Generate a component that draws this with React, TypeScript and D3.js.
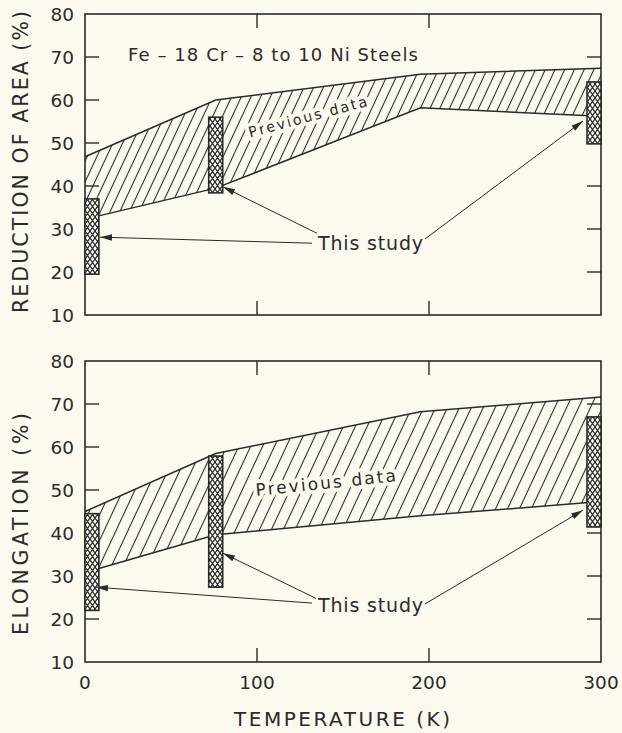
import React from 'react';
import * as d3 from 'd3';

const W = 622;
const H = 733;

// Scatter band of earlier results (temperatures in K, values in %)
const bandTemps = [0, 76, 195, 300];
const areaUpper = [46.8, 60, 66, 67.4];
const areaLower = [32.3, 39.5, 58.2, 56.2];
const elongUpper = [45, 58.5, 68.2, 71.6];
const elongLower = [30.8, 39.6, 44, 47.3];

// Ranges measured in this study
const studyTemps = [4, 76, 296];
const areaStudyLow = [19.5, 38.4, 49.8];
const areaStudyHigh = [37, 56, 64.2];
const elongStudyLow = [22, 27.4, 41.4];
const elongStudyHigh = [44.5, 57.9, 67];

// Axis ticks
const yTicks = [10, 20, 30, 40, 50, 60, 70, 80];
const xTicks = [0, 100, 200, 300];

const INK = '#2b2b2b';
const PAPER = '#fcf9ef';
const FONT = '"DejaVu Sans", Verdana, sans-serif';

const x = d3.scaleLinear().domain([0, 300]).range([85, 601]);

type Arrow = [number, number, number, number]; // tailT, tailV, tipT, tipV

interface PanelProps {
  top: number;
  bottom: number;
  upper: number[];
  lower: number[];
  low: number[];
  high: number[];
  hatch: string;
  title: string;
  titleCenter: number;
  titleLength: number;
  prevAt: [number, number];
  prevAngle: number;
  prevSize: number;
  prevLength: number;
  studyAt: [number, number];
  arrows: Arrow[];
  showX: boolean;
  heading?: boolean;
}

function Panel(p: PanelProps) {
  const y = d3.scaleLinear().domain([10, 80]).range([p.bottom, p.top]);
  const pts: [number, number][] = bandTemps.map((t, i) => [t, p.upper[i]]);
  const lowPts: [number, number][] = bandTemps.map((t, i) => [t, p.lower[i]]);
  const poly = [...pts, ...lowPts.slice().reverse()];
  const bandPath = d3
    .line<[number, number]>()
    .x((d) => x(d[0]))
    .y((d) => y(d[1]))(poly) + 'Z';
  const edge = d3
    .line<[number, number]>()
    .x((d) => x(d[0]))
    .y((d) => y(d[1]));
  const tick = 14;
  const barW = 14;
  const x0 = x(0);
  const x1 = x(300);
  return (
    <g>
      <path d={bandPath} fill={`url(#${p.hatch})`} stroke="none" />
      <path d={edge(pts) || ''} fill="none" stroke={INK} strokeWidth={1.5} />
      <path d={edge(lowPts) || ''} fill="none" stroke={INK} strokeWidth={1.5} />
      <text
        transform={`translate(${x(p.prevAt[0])},${y(p.prevAt[1])}) rotate(${p.prevAngle})`}
        fontSize={p.prevSize}
        textLength={p.prevLength}
        lengthAdjust="spacing"
        fill={INK}
        stroke={PAPER}
        strokeWidth={8}
        paintOrder="stroke"
        strokeLinejoin="round"
      >
        Previous data
      </text>
      {/* frame and inward ticks */}
      <rect
        x={x0}
        y={p.top}
        width={x1 - x0}
        height={p.bottom - p.top}
        fill="none"
        stroke={INK}
        strokeWidth={1.6}
      />
      {yTicks.slice(1, -1).map((v) => (
        <g key={v}>
          <line x1={x0} x2={x0 + tick} y1={y(v)} y2={y(v)} stroke={INK} strokeWidth={1.4} />
          <line x1={x1} x2={x1 - tick} y1={y(v)} y2={y(v)} stroke={INK} strokeWidth={1.4} />
        </g>
      ))}
      {xTicks.slice(1, -1).map((t) => (
        <g key={t}>
          <line x1={x(t)} x2={x(t)} y1={p.top} y2={p.top + tick} stroke={INK} strokeWidth={1.4} />
          <line x1={x(t)} x2={x(t)} y1={p.bottom} y2={p.bottom - tick} stroke={INK} strokeWidth={1.4} />
        </g>
      ))}
      {studyTemps.map((t, i) => {
        const left = Math.min(x(t) - barW / 2, x1 - barW);
        const yt = y(p.high[i]);
        const h = y(p.low[i]) - yt;
        return (
          <g key={t}>
            <rect x={left} y={yt} width={barW} height={h} fill={PAPER} />
            <rect
              x={left}
              y={yt}
              width={barW}
              height={h}
              fill="url(#cross)"
              stroke={INK}
              strokeWidth={1.6}
            />
          </g>
        );
      })}
      {yTicks.map((v) => (
        <text key={v} x={74} y={y(v)} dy="0.36em" textAnchor="end" fontSize={18.5} fill={INK}>
          {v}
        </text>
      ))}
      {p.showX &&
        xTicks.map((t) => (
          <text key={t} x={x(t)} y={p.bottom + 27} textAnchor="middle" fontSize={18.5} fill={INK}>
            {t}
          </text>
        ))}
      <text
        transform={`translate(28,${p.titleCenter}) rotate(-90)`}
        textAnchor="middle"
        fontSize={20.5}
        textLength={p.titleLength}
        lengthAdjust="spacing"
        fill={INK}
      >
        {p.title}
      </text>
      {p.heading && (
        <text x={128} y={61} fontSize={18} textLength={290} lengthAdjust="spacing" fill={INK}>
          Fe – 18 Cr – 8 to 10 Ni Steels
        </text>
      )}
      <text
        x={x(p.studyAt[0])}
        y={y(p.studyAt[1])}
        fontSize={19}
        textLength={105}
        lengthAdjust="spacing"
        fill={INK}
      >
        This study
      </text>
      {p.arrows.map((a, i) => (
        <line
          key={i}
          x1={x(a[0])}
          y1={y(a[1])}
          x2={x(a[2])}
          y2={y(a[3])}
          stroke={INK}
          strokeWidth={1}
          markerEnd="url(#head)"
        />
      ))}
    </g>
  );
}

export default function App() {
  return (
    <svg
      width={W}
      height={H}
      viewBox={`0 0 ${W} ${H}`}
      style={{ position: 'absolute', left: 0, top: 0, background: PAPER, fontFamily: FONT }}
    >
      <defs>
        <pattern
          id="hatchTop"
          patternUnits="userSpaceOnUse"
          width={8.8}
          height={20}
          patternTransform="rotate(25)"
        >
          <line x1={4.4} y1={0} x2={4.4} y2={20} stroke={INK} strokeWidth={1.1} />
        </pattern>
        <pattern
          id="hatchBottom"
          patternUnits="userSpaceOnUse"
          width={10.8}
          height={20}
          patternTransform="rotate(25)"
        >
          <line x1={5.4} y1={0} x2={5.4} y2={20} stroke={INK} strokeWidth={1.1} />
        </pattern>
        <pattern id="cross" patternUnits="userSpaceOnUse" width={5} height={7}>
          <path d="M0,0 L5,7 M5,0 L0,7" stroke={INK} strokeWidth={1.3} fill="none" />
        </pattern>
        <marker
          id="head"
          viewBox="0 0 12 8"
          refX={12}
          refY={4}
          markerWidth={12}
          markerHeight={8}
          markerUnits="userSpaceOnUse"
          orient="auto"
        >
          <path d="M0,0.8 L12,4 L0,7.2 Z" fill={INK} />
        </marker>
      </defs>
      <rect width={W} height={H} fill={PAPER} />
      <Panel
        top={14}
        bottom={315}
        upper={areaUpper}
        lower={areaLower}
        low={areaStudyLow}
        high={areaStudyHigh}
        hatch="hatchTop"
        title="REDUCTION OF AREA (%)"
        titleCenter={162}
        titleLength={302}
        prevAt={[96, 51.3]}
        prevAngle={-15}
        prevSize={14.5}
        prevLength={122}
        studyAt={[135.5, 25.1]}
        arrows={[
          [132, 26.7, 8.7, 28.1],
          [134.9, 29, 80.2, 39.8],
          [197.7, 27.7, 289.5, 55.1],
        ]}
        showX={false}
        heading
      />
      <Panel
        top={361}
        bottom={662}
        upper={elongUpper}
        lower={elongLower}
        low={elongStudyLow}
        high={elongStudyHigh}
        hatch="hatchBottom"
        title="ELONGATION (%)"
        titleCenter={524}
        titleLength={222}
        prevAt={[99.5, 48.6]}
        prevAngle={-6}
        prevSize={17}
        prevLength={141}
        studyAt={[135.5, 21.6]}
        arrows={[
          [132, 23.7, 6.4, 27.4],
          [134.3, 24.8, 80.2, 35.3],
          [197.7, 23.5, 289.5, 45.3],
        ]}
        showX
      />
      <text x={342} y={726} textAnchor="middle" fontSize={20} textLength={216} lengthAdjust="spacing" fill={INK}>
        TEMPERATURE (K)
      </text>
    </svg>
  );
}
